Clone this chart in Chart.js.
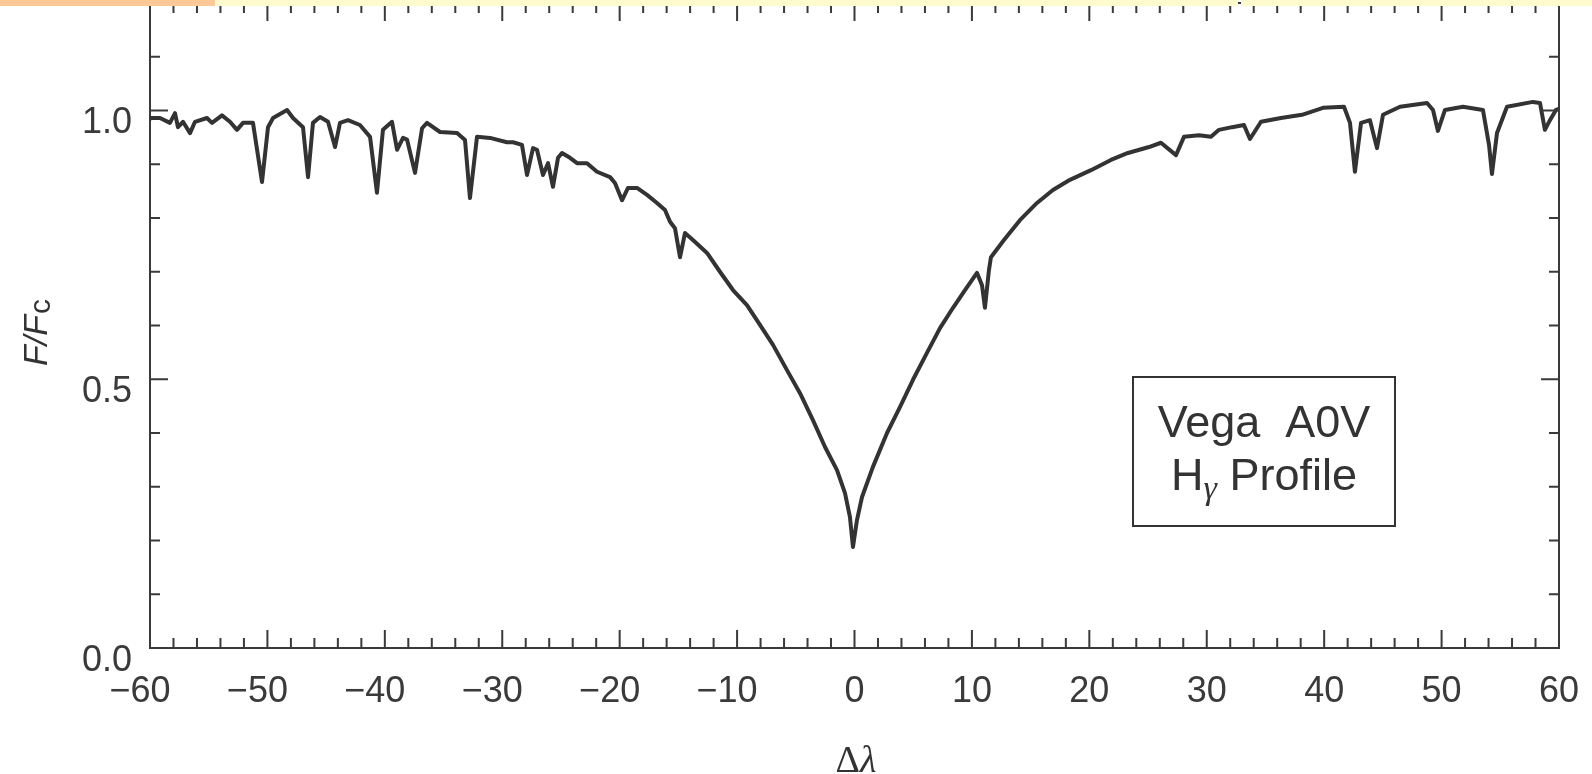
<!DOCTYPE html>
<html>
<head>
<meta charset="utf-8">
<title>Vega A0V H-gamma profile</title>
<script src="https://cdn.jsdelivr.net/npm/chart.js@4.4.0/dist/chart.umd.min.js"></script>
<style>
    html, body { margin: 0; padding: 0; background: #fff; }
    #wrap { position: relative; width: 1592px; height: 774px; }
    .strip { position: absolute; top: 0; height: 6px; }
</style>
</head>
<body>
<div id="wrap">
    <canvas id="profile-chart"></canvas>
    <div class="strip" style="left:0;width:215px;background:#fcc997"></div>
    <div class="strip" style="left:215px;width:1023px;background:#fefbcf"></div>
    <div class="strip" style="left:1241px;width:351px;background:#fefbcf"></div>
</div>
<script>
// wavelength offset from line centre
const dLambda = [
    -60.00, -59.83, -59.15, -58.30, -57.87, -57.62, -57.19, -56.59, -56.17, -55.15,
    -54.72, -53.87, -53.19, -52.59, -52.08, -51.23, -50.46, -49.95, -49.52, -48.33,
    -47.82, -46.97, -46.54, -46.12, -45.52, -44.84, -44.24, -43.82, -43.14, -42.12,
    -41.26, -40.67, -40.16, -39.39, -38.96, -38.45, -38.11, -37.43, -36.83, -36.41,
    -35.30, -33.85, -33.17, -32.75, -32.15, -31.04, -29.60, -29.08, -28.32, -27.89,
    -27.38, -27.04, -26.53, -26.10, -25.68, -25.25, -24.91, -24.23, -23.63, -22.78,
    -21.93, -20.82, -20.40, -19.80, -19.29, -18.52, -17.67, -16.82, -16.14, -15.71,
    -15.29, -14.86, -14.44, -13.76, -12.56, -11.46, -10.35, -9.16, -8.05, -6.94,
    -5.75, -4.64, -3.54, -2.51, -1.49, -0.81, -0.39, -0.13, 0.21, 0.64,
    1.57, 2.77, 3.87, 4.98, 6.17, 7.28, 8.39, 9.41, 10.43, 10.86,
    11.11, 11.45, 11.62, 12.73, 14.09, 15.54, 16.90, 18.35, 20.14, 21.84,
    23.29, 25.08, 26.10, 27.38, 28.06, 29.34, 30.36, 31.04, 32.15, 33.17,
    33.68, 34.62, 36.32, 38.11, 39.90, 41.69, 42.20, 42.62, 43.14, 43.90,
    44.50, 45.01, 46.46, 48.76, 49.27, 49.69, 50.29, 51.82, 53.52, 54.04,
    54.29, 54.72, 55.57, 57.78, 58.38, 58.80, 59.23, 59.74, 60.00
];

// F/Fc at each offset
const fluxRatio = [
    0.985, 0.986, 0.986, 0.977, 0.995, 0.969, 0.979, 0.958, 0.979, 0.986,
    0.977, 0.991, 0.979, 0.964, 0.977, 0.977, 0.867, 0.969, 0.986, 1.001,
    0.986, 0.969, 0.876, 0.977, 0.988, 0.979, 0.932, 0.977, 0.982, 0.973,
    0.951, 0.847, 0.964, 0.979, 0.927, 0.949, 0.946, 0.884, 0.967, 0.977,
    0.960, 0.958, 0.945, 0.837, 0.951, 0.949, 0.941, 0.941, 0.936, 0.880,
    0.930, 0.927, 0.880, 0.902, 0.858, 0.912, 0.921, 0.912, 0.902, 0.902,
    0.886, 0.876, 0.865, 0.833, 0.856, 0.856, 0.843, 0.828, 0.815, 0.793,
    0.781, 0.727, 0.772, 0.759, 0.735, 0.700, 0.666, 0.638, 0.601, 0.564,
    0.517, 0.474, 0.424, 0.374, 0.331, 0.288, 0.244, 0.188, 0.238, 0.281,
    0.337, 0.400, 0.448, 0.499, 0.549, 0.595, 0.633, 0.666, 0.698, 0.675,
    0.633, 0.703, 0.727, 0.759, 0.796, 0.828, 0.852, 0.871, 0.889, 0.908,
    0.921, 0.932, 0.940, 0.917, 0.951, 0.954, 0.951, 0.964, 0.969, 0.973,
    0.947, 0.979, 0.986, 0.992, 1.005, 1.007, 0.977, 0.886, 0.977, 0.982,
    0.930, 0.992, 1.007, 1.014, 1.001, 0.962, 1.001, 1.007, 1.001, 0.936,
    0.882, 0.958, 1.007, 1.016, 1.014, 0.964, 0.982, 1.001, 1.003
];

const xRange = [-60, 60];
const yRange = [0, 1.2];
const boxTitle = "Vega  A0V";
const boxLine = ["H", "\u03b3", " Profile"];

const ink = "#333333";
const axisInk = "#3a3a3a";
const sans = '"Liberation Sans", Arial, sans-serif';
const serif = '"Liberation Serif", "Times New Roman", serif';

const points = dLambda.map((x, i) => ({ x: x, y: fluxRatio[i] }));

// fixes each axis box so the plot area lands where the figure has it
function pinSize(size, horizontal) {
    return function (scale) {
        if (horizontal) {
            scale.height = size;
        } else {
            scale.width = size;
        }
        scale.paddingTop = 0;
        scale.paddingBottom = 0;
        scale.paddingLeft = 0;
        scale.paddingRight = 0;
    };
}

// inward ticks on all four sides, axis titles and the label box
const frameExtras = {
    id: "frameExtras",
    afterDraw(chart) {
        const ctx = chart.ctx;
        const { x, xTop, y, yRight } = chart.scales;
        ctx.save();
        ctx.strokeStyle = axisInk;
        ctx.lineWidth = 2;
        ctx.beginPath();
        for (let v = xRange[0]; v <= xRange[1]; v += 2) {
            const px = x.getPixelForValue(v);
            const len = v % 10 === 0 ? 18 : 10;
            ctx.moveTo(px, x.top);
            ctx.lineTo(px, x.top - len);
            ctx.moveTo(px, xTop.bottom);
            ctx.lineTo(px, xTop.bottom + len);
        }
        for (let i = 0; i <= 12; i++) {
            const py = y.getPixelForValue(i / 10);
            const len = i % 5 === 0 ? 18 : 10;
            ctx.moveTo(y.right, py);
            ctx.lineTo(y.right + len, py);
            ctx.moveTo(yRight.left, py);
            ctx.lineTo(yRight.left - len, py);
        }
        ctx.stroke();

        ctx.fillStyle = ink;
        ctx.textBaseline = "alphabetic";

        // x title: Δλ
        ctx.font = "38px " + serif;
        const wD = ctx.measureText("\u0394").width;
        ctx.font = "italic 38px " + serif;
        const wL = ctx.measureText("\u03bb").width;
        const tx = 856 - (wD + wL) / 2;
        ctx.font = "38px " + serif;
        ctx.textAlign = "left";
        ctx.fillText("\u0394", tx, 772);
        ctx.font = "italic 38px " + serif;
        ctx.fillText("\u03bb", tx + wD, 772);

        // y title: F/Fc, rotated
        ctx.save();
        ctx.translate(47, 366);
        ctx.rotate(-Math.PI / 2);
        ctx.font = "italic 34px " + sans;
        ctx.fillText("F/F", 0, 0);
        const wF = ctx.measureText("F/F").width;
        ctx.font = "30px " + sans;
        ctx.fillText("c", wF + 1, 3);
        ctx.restore();

        // label box
        const bx = 1133, by = 377, bw = 262, bh = 149;
        ctx.lineWidth = 2;
        ctx.strokeStyle = ink;
        ctx.strokeRect(bx, by, bw, bh);
        const cx = bx + bw / 2;
        ctx.font = "45px " + sans;
        ctx.textAlign = "center";
        ctx.fillText(boxTitle, cx, 437);

        ctx.textAlign = "left";
        ctx.font = "45px " + sans;
        const wH = ctx.measureText(boxLine[0]).width;
        const wP = ctx.measureText(boxLine[2]).width;
        ctx.font = "italic 34px " + serif;
        const wG = ctx.measureText(boxLine[1]).width;
        const lx = cx - (wH + wG + wP) / 2;
        ctx.font = "45px " + sans;
        ctx.fillText(boxLine[0], lx, 490);
        ctx.font = "italic 34px " + serif;
        ctx.fillText(boxLine[1], lx + wH, 499);
        ctx.font = "45px " + sans;
        ctx.fillText(boxLine[2], lx + wH + wG, 490);
        ctx.restore();
    }
};

new Chart(document.getElementById("profile-chart"), {
    type: "line",
    data: {
        datasets: [
            {
                data: points,
                borderColor: ink,
                borderWidth: 4,
                borderJoinStyle: "round",
                pointRadius: 0,
                tension: 0,
                fill: false,
            },
        ],
    },
    options: {
        responsive: true,
        maintainAspectRatio: false,
        animation: false,
        layout: { padding: 0 },
        plugins: {
            legend: { display: false },
            tooltip: { enabled: false },
        },
        scales: {
            x: {
                type: "linear",
                position: "bottom",
                min: xRange[0],
                max: xRange[1],
                grid: { display: false, drawTicks: false },
                border: { color: axisInk, width: 2 },
                ticks: {
                    stepSize: 10,
                    padding: 22,
                    maxRotation: 0,
                    autoSkip: false,
                    color: axisInk,
                    font: { family: sans, size: 36 },
                    callback: v => (v < 0 ? "\u2212" + Math.abs(v) + "\u2007" : String(v)),
                },
                afterFit: pinSize(126, true),
            },
            xTop: {
                type: "linear",
                position: "top",
                min: xRange[0],
                max: xRange[1],
                grid: { display: false, drawTicks: false },
                border: { color: axisInk, width: 2 },
                ticks: { display: false },
                afterFit: pinSize(3, true),
            },
            y: {
                type: "linear",
                position: "left",
                min: yRange[0],
                max: yRange[1],
                grid: { display: false, drawTicks: false },
                border: { color: axisInk, width: 2 },
                ticks: {
                    stepSize: 0.5,
                    includeBounds: false,
                    padding: 18,
                    labelOffset: 13,
                    color: axisInk,
                    font: { family: sans, size: 36 },
                    callback: v => v.toFixed(1),
                },
                afterFit: pinSize(150, false),
            },
            yRight: {
                type: "linear",
                position: "right",
                min: yRange[0],
                max: yRange[1],
                grid: { display: false, drawTicks: false },
                border: { color: axisInk, width: 2 },
                ticks: { display: false },
                afterFit: pinSize(33, false),
            },
        },
    },
    plugins: [frameExtras],
});
</script>
</body>
</html>
